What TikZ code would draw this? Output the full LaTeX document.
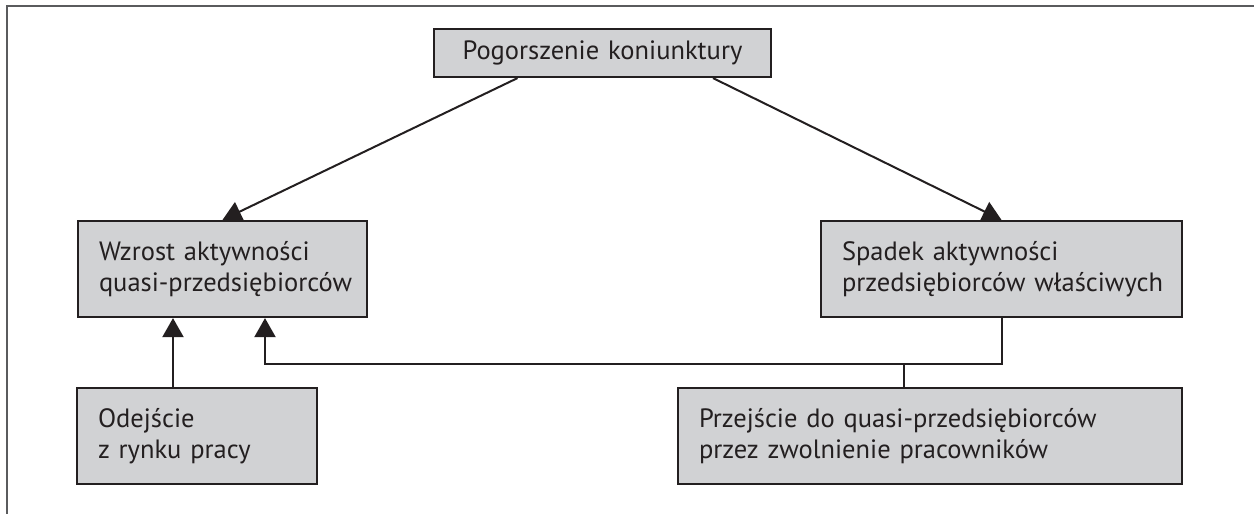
\documentclass[tikz,border=0pt]{standalone}
\usepackage{fontspec}
\setmainfont{PT Sans}[WordSpace={1.25,1,1}]
\usetikzlibrary{arrows.meta,calc}
\definecolor{boxgray}{HTML}{D1D2D4}
\definecolor{ink}{HTML}{231F20}
\definecolor{framegray}{HTML}{5A5B5D}
\begin{document}
\begin{tikzpicture}[x=1pt,y=-1pt,
  box/.style={draw=ink, line width=2.2pt, fill=boxgray, inner xsep=21pt, inner ysep=0pt,
    text=ink, font=\fontsize{26.5}{31}\selectfont, align=left},
  conn/.style={draw=ink, line width=2pt},
  arr/.style={conn, -{Triangle[length=19pt,width=21pt]}}]
\useasboundingbox (0,0) rectangle (1254,514);
\draw[framegray, line width=2pt] (7,514) -- (7,6) -- (1254,6);

\node[box, align=center, minimum width=337pt, minimum height=48pt] (top) at (602.5,53) {Pogorszenie koniunktury};
\node[box, text width=247pt, minimum height=96pt] (wz) at (222.5,269) {\mbox{Wzrost aktywności}\\\mbox{quasi-przedsiębiorców}};
\node[box, text width=319pt, minimum height=96pt] (sp) at (1001.5,269) {\mbox{Spadek aktywności}\\\mbox{przedsiębiorców właściwych}};
\node[box, text width=198pt, minimum height=96pt] (od) at (197,436) {\mbox{Odejście}\\\mbox{z rynku pracy}};
\node[box, text width=462pt, minimum height=96pt] (pr) at (930,436) {\mbox{Przejście do quasi-przedsiębiorców}\\\mbox{przez zwolnienie pracowników}};

\coordinate (c) at (265,364);

\draw[arr] ([xshift=-85pt]top.south) -- (wz.north);
\draw[arr] ([xshift=110.5pt]top.south) -- (sp.north);
\draw[arr] ([xshift=-24pt]od.north) -- ([xshift=-24pt]od.north |- wz.south);
\draw[arr] (sp.south) |- (c) -- (c |- wz.south);
\draw[conn] ([xshift=-26pt]pr.north) -- ([xshift=-26pt]pr.north |- c);
\end{tikzpicture}
\end{document}
